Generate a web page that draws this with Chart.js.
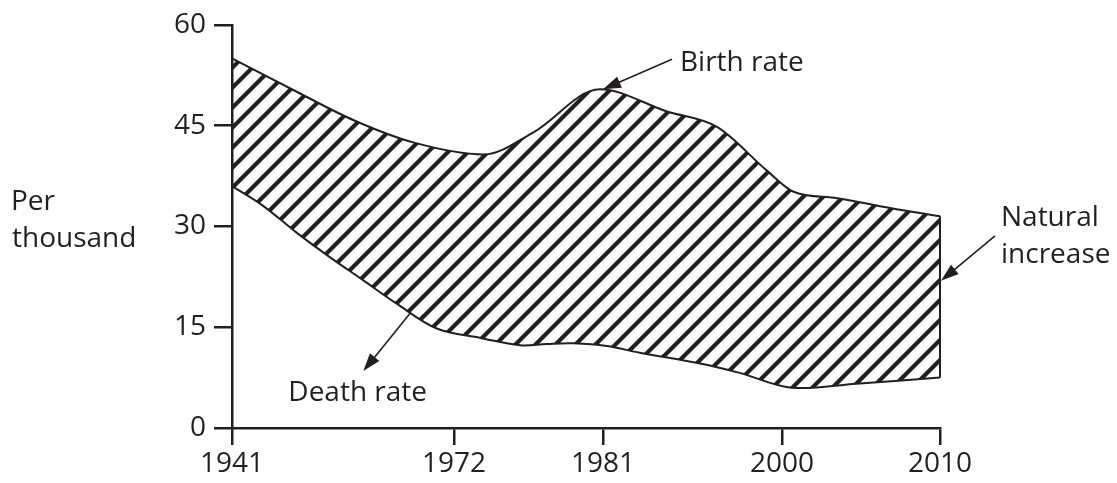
<!DOCTYPE html>
<html>
<head>
<meta charset="utf-8">
<script src="https://cdn.jsdelivr.net/npm/chart.js@4/dist/chart.umd.min.js"></script>
<style>
  html, body { margin: 0; padding: 0; background: #fff; }
  #wrap { width: 1117px; height: 483px; }
</style>
</head>
<body>
<div id="wrap"><canvas id="chart" width="1117" height="483"></canvas></div>
<script>
// Tick labels on both axes
const tickYears = [1941, 1972, 1981, 2000, 2010];
const tickRates = [0, 15, 30, 45, 60];

// Birth rate (per thousand)
const birthYears = [1941, 1950.1, 1958.0, 1966.3, 1973.8, 1976.8, 1980.8, 1987.8, 1993.1, 1998.4, 2000.7, 2003.5, 2006.2, 2010];
const birthRate  = [55.0, 50.0, 45.8, 42.5, 40.7, 44.0, 50.4, 47.1, 44.8, 38.3, 35.2, 34.2, 33.0, 31.5];

// Death rate (per thousand)
const deathYears = [1941, 1945.3, 1950.1, 1954.7, 1959.3, 1964.0, 1969.6, 1973.6, 1976.0, 1977.6, 1979.2, 1981.4, 1984.9, 1991.3, 1995.5, 2000.6, 2004.7, 2010];
const deathRate  = [36.0, 33.1, 29.0, 25.4, 22.0, 18.5, 14.8, 13.4, 12.3, 12.5, 12.6, 12.2, 11.2, 9.6, 8.2, 6.0, 6.6, 7.5];

// the x axis is not to scale: where each tick year sits along the axis (0..1)
const tickStops = [0, 222 / 708, 371 / 708, 550 / 708, 1];

const INK = "#231f20";
const FONT = "'Open Sans', 'DejaVu Sans', sans-serif";

function yearToFrac(v) {
    for (let i = 0; i < tickYears.length - 1; i++) {
        if (v <= tickYears[i + 1] || i === tickYears.length - 2) {
            const t = (v - tickYears[i]) / (tickYears[i + 1] - tickYears[i]);
            return tickStops[i] + t * (tickStops[i + 1] - tickStops[i]);
        }
    }
    return 0;
}
function fracToYear(f) {
    for (let i = 0; i < tickStops.length - 1; i++) {
        if (f <= tickStops[i + 1] || i === tickStops.length - 2) {
            const t = (f - tickStops[i]) / (tickStops[i + 1] - tickStops[i]);
            return tickYears[i] + t * (tickYears[i + 1] - tickYears[i]);
        }
    }
    return tickYears[0];
}

// linear scale with piecewise spacing between the tick years
class PiecewiseScale extends Chart.LinearScale {
    getPixelForValue(value) {
        return this.getPixelForDecimal(yearToFrac(value));
    }
    getValueForPixel(pixel) {
        return fracToYear(this.getDecimalForPixel(pixel));
    }
}
PiecewiseScale.id = "piecewise";
PiecewiseScale.defaults = Chart.LinearScale.defaults;
Chart.register(PiecewiseScale);

// diagonal hatching, "/" stripes
function makeHatch() {
    const s = 20;
    const c = document.createElement("canvas");
    c.width = s; c.height = s;
    const g = c.getContext("2d");
    g.strokeStyle = INK;
    g.lineWidth = 4.2;
    g.lineCap = "square";
    g.beginPath();
    g.moveTo(0, s); g.lineTo(s, 0);
    g.moveTo(-s / 2, s / 2); g.lineTo(s / 2, -s / 2);
    g.moveTo(s / 2, s + s / 2); g.lineTo(s + s / 2, s / 2);
    g.stroke();
    return g.createPattern(c, "repeat");
}

function arrow(ctx, x1, y1, x2, y2) {
    const ang = Math.atan2(y2 - y1, x2 - x1);
    const len = 18, half = 6;
    ctx.beginPath();
    ctx.moveTo(x1, y1);
    ctx.lineTo(x2 - Math.cos(ang) * len * 0.8, y2 - Math.sin(ang) * len * 0.8);
    ctx.stroke();
    ctx.beginPath();
    ctx.moveTo(x2, y2);
    ctx.lineTo(x2 - Math.cos(ang) * len + Math.sin(ang) * half, y2 - Math.sin(ang) * len - Math.cos(ang) * half);
    ctx.lineTo(x2 - Math.cos(ang) * len - Math.sin(ang) * half, y2 - Math.sin(ang) * len + Math.cos(ang) * half);
    ctx.closePath();
    ctx.fill();
}

// labels, arrows and the axis title
const annotations = {
    id: "annotations",
    afterDraw(chart) {
        const ctx = chart.ctx;
        const xs = chart.scales.x, ys = chart.scales.y;
        ctx.save();
        ctx.strokeStyle = INK;
        ctx.fillStyle = INK;
        ctx.lineWidth = 1.6;
        ctx.font = "28px " + FONT;
        ctx.textBaseline = "alphabetic";
        ctx.textAlign = "left";

        // Birth rate, pointing at the 1981 peak
        let tx = xs.getPixelForValue(1981), ty = ys.getPixelForValue(50.4);
        arrow(ctx, tx + 69, ty - 30, tx, ty);
        ctx.fillText("Birth rate", tx + 77, ty - 18);

        // Death rate
        let ax = xs.getPixelForValue(1965.9), ay = ys.getPixelForValue(17.1);
        arrow(ctx, ax, ay, ax - 47, ay + 58);
        ctx.fillText("Death rate", ax - 122, ay + 88);

        // Natural increase, pointing at the right edge
        tx = xs.getPixelForValue(2010); ty = ys.getPixelForValue(21.9);
        arrow(ctx, tx + 55, ty - 45, tx + 1, ty);
        ctx.fillText("Natural", tx + 61, ty - 55);
        ctx.fillText("increase", tx + 61, ty - 18);

        // y axis title
        ctx.fillText("Per", 11, 210);
        ctx.fillText("thousand", 12, 247);
        ctx.restore();
    }
};

const hatch = makeHatch();
const lastB = birthRate[birthRate.length - 1];
const lastD = deathRate[deathRate.length - 1];

new Chart(document.getElementById("chart"), {
    type: "line",
    data: {
        datasets: [
            {
                label: "Birth rate",
                data: birthYears.map((x, i) => ({ x, y: birthRate[i] })),
                borderColor: INK,
                borderWidth: 2,
                backgroundColor: hatch,
                fill: "+1",
                cubicInterpolationMode: "monotone",
                pointRadius: 0,
            },
            {
                label: "Death rate",
                data: deathYears.map((x, i) => ({ x, y: deathRate[i] })),
                borderColor: INK,
                borderWidth: 2,
                fill: false,
                tension: 0.35,
                pointRadius: 0,
            },
            {
                label: "edge",
                data: [{ x: 2010, y: lastB }, { x: 2010, y: lastD }],
                borderColor: INK,
                borderWidth: 2,
                fill: false,
                pointRadius: 0,
            },
        ],
    },
    options: {
        responsive: false,
        animation: false,
        clip: false,
        layout: { padding: { left: 0, right: 177, top: 18, bottom: 0 } },
        plugins: {
            legend: { display: false },
            tooltip: { enabled: false },
        },
        scales: {
            x: {
                type: "piecewise",
                min: tickYears[0],
                max: tickYears[tickYears.length - 1],
                afterBuildTicks: (scale) => { scale.ticks = tickYears.map(v => ({ value: v })); },
                afterFit: (scale) => { scale.height = 55; },
                border: { color: INK, width: 2.5 },
                grid: { drawOnChartArea: false, drawTicks: true, tickLength: 17, color: INK, lineWidth: 2.5 },
                ticks: {
                    color: INK,
                    font: { family: FONT, size: 28 },
                    padding: 2,
                    maxRotation: 0,
                    autoSkip: false,
                    callback: (v) => String(v),
                },
            },
            y: {
                min: 0,
                max: 60,
                afterBuildTicks: (scale) => { scale.ticks = tickRates.map(v => ({ value: v })); },
                afterFit: (scale) => { scale.width = 232; },
                border: { color: INK, width: 2.5 },
                grid: { drawOnChartArea: false, drawTicks: true, tickLength: 18, color: INK, lineWidth: 2.5 },
                ticks: {
                    color: INK,
                    font: { family: FONT, size: 28 },
                    padding: 8,
                    callback: (v) => String(v),
                },
            },
        },
    },
    plugins: [annotations],
});
</script>
</body>
</html>
